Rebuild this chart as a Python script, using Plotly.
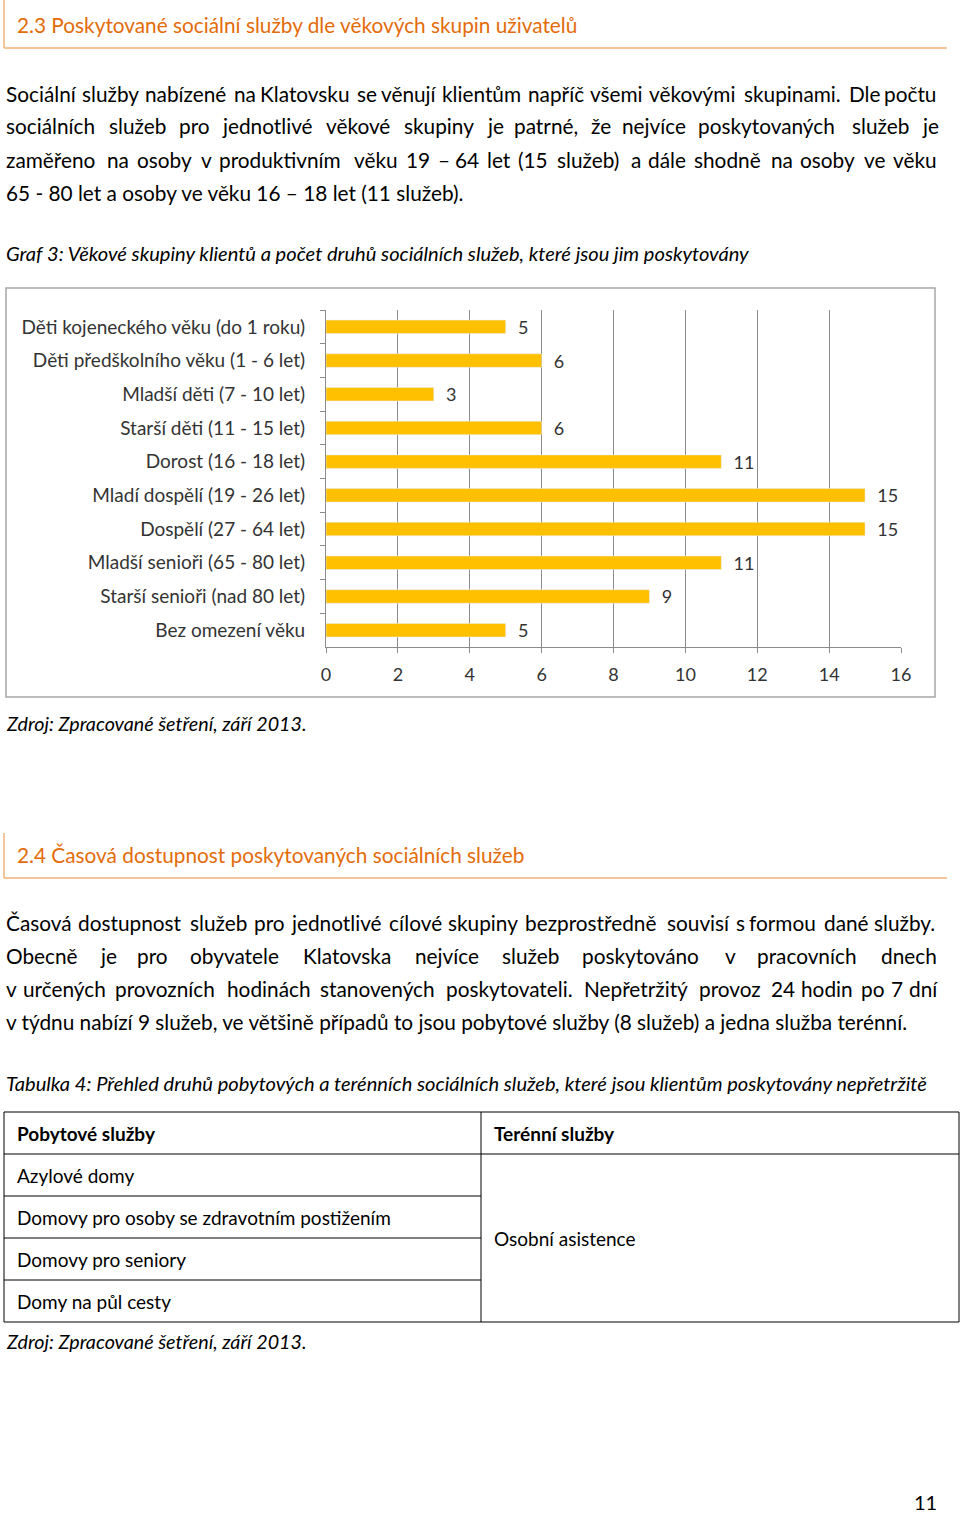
import plotly.graph_objects as go

W, H = 960, 1513

categories = [
    "Děti kojeneckého věku (do 1 roku)",
    "Děti předškolního věku (1 - 6 let)",
    "Mladší děti (7 - 10 let)",
    "Starší děti (11 - 15 let)",
    "Dorost (16 - 18 let)",
    "Mladí dospělí (19 - 26 let)",
    "Dospělí (27 - 64 let)",
    "Mladší senioři (65 - 80 let)",
    "Starší senioři (nad 80 let)",
    "Bez omezení věku",
]
services = [5, 6, 3, 6, 11, 15, 15, 11, 9, 5]
x_ticks = [0, 2, 4, 6, 8, 10, 12, 14, 16]

heading1 = "2.3 Poskytované sociální služby dle věkových skupin uživatelů"
para1 = [
    "Sociální služby nabízené na Klatovsku se věnují klientům napříč všemi věkovými skupinami. Dle počtu",
    "sociálních služeb pro jednotlivé věkové skupiny je patrné, že nejvíce poskytovaných služeb je",
    "zaměřeno na osoby v produktivním věku 19 – 64 let (15 služeb) a dále shodně na osoby ve věku",
    "65 - 80 let a osoby ve věku 16 – 18 let (11 služeb).",
]
caption1 = "Graf 3: Věkové skupiny klientů a počet druhů sociálních služeb, které jsou jim poskytovány"
source = "Zdroj: Zpracované šetření, září 2013."

heading2 = "2.4 Časová dostupnost poskytovaných sociálních služeb"
para2 = [
    "Časová dostupnost služeb pro jednotlivé cílové skupiny bezprostředně souvisí s formou dané služby.",
    "Obecně je pro obyvatele Klatovska nejvíce služeb poskytováno v pracovních dnech",
    "v určených provozních hodinách stanovených poskytovateli. Nepřetržitý provoz 24 hodin po 7 dní",
    "v týdnu nabízí 9 služeb, ve většině případů to jsou pobytové služby (8 služeb) a jedna služba terénní.",
]
caption2 = "Tabulka 4: Přehled druhů pobytových a terénních sociálních služeb, které jsou klientům poskytovány nepřetržitě"
table_head = ["Pobytové služby", "Terénní služby"]
table_left = ["Azylové domy", "Domovy pro osoby se zdravotním postižením", "Domovy pro seniory", "Domy na půl cesty"]
table_right = ["Osobní asistence"]
page_no = "11"

FONT = "Lato"
ORANGE = "#E36C0A"
LINE_OR = "#F0B27A"
BODY = 20.8


def py(y):
    return 1 - y / H


def px(x):
    return x / W


fig = go.Figure()
fig.add_trace(
    go.Bar(
        x=services,
        y=categories,
        orientation="h",
        marker_color="#FFC000",
        texttemplate="  %{x}",
        textposition="outside",
        constraintext="none",
        textfont=dict(size=18, color="#333333", family=FONT),
        cliponaxis=False,
        hoverinfo="skip",
    )
)

ann = []
shapes = []


def text(x, y, s, size=20, color="#000000", italic=False, bold=False, anchor="left"):
    if bold:
        s = "<b>" + s + "</b>"
    if italic:
        s = "<i>" + s + "</i>"
    ann.append(dict(x=px(x), y=py(y), xref="paper", yref="paper", text=s, showarrow=False,
                    xanchor=anchor, yanchor="middle",
                    font=dict(size=size, color=color, family=FONT)))


def line(x0, y0, x1, y1, color="#000000", width=1):
    shapes.append(dict(type="line", xref="paper", yref="paper", x0=px(x0), y0=py(y0),
                       x1=px(x1), y1=py(y1), line=dict(color=color, width=width)))


# rough Lato advance widths (em) for spreading justified lines
LATO = dict(zip("abcdefghijklmnopqrstuvwxyz",
                [.49, .56, .46, .56, .52, .33, .51, .56, .24, .24, .50, .24, .85,
                 .56, .57, .56, .56, .37, .43, .36, .56, .51, .78, .50, .51, .46]))
LATO.update(zip("ABCDEFGHIJKLMNOPQRSTUVWXYZ",
                [.68, .63, .66, .72, .55, .53, .70, .74, .27, .39, .64, .49, .88,
                 .74, .78, .59, .78, .62, .53, .56, .71, .67, .99, .65, .62, .60]))
LATO.update({c: .58 for c in "0123456789"})
LATO.update({".": .22, ",": .22, ":": .24, ";": .24, "(": .31, ")": .31, "-": .35, "–": .50})
BASE = dict(zip("áéíýěščřžůúďťňČŘŠŽ", "aeiyescrzuudtnCRSZ"))


def est_width(word, size):
    return sum(LATO.get(BASE.get(c, c), .52) for c in word) * size * 1.05


def justified(x0, x1, y, s, size):
    # word-by-word placement to imitate justified paragraph text
    words = s.split(" ")
    widths = [est_width(w, size) for w in words]
    gap = (x1 - x0 - sum(widths)) / (len(words) - 1)
    x = x0
    for w, wd in zip(words, widths):
        text(x, y, w, size)
        x += wd + gap


# heading 1
line(4, 0, 4, 48, LINE_OR, 1.5)
line(4, 48, 947, 48, LINE_OR, 1.5)
text(15, 24, heading1, 20.8, ORANGE)
for i, s in enumerate(para1):
    if i < len(para1) - 1:
        justified(4, 937, 93 + 33 * i, s, BODY)
    else:
        text(4, 93 + 33 * i, s, BODY)
text(4, 253, caption1, 20.1, italic=True)

# chart frame
shapes.append(dict(type="rect", xref="paper", yref="paper", x0=px(6), y0=py(697), x1=px(935), y1=py(288),
                   line=dict(color="#A6A6A6", width=1.5), layer="below"))
text(4, 724, source, 19.7, italic=True)

# heading 2
line(4, 833, 4, 878, LINE_OR, 1.5)
line(4, 878, 947, 878, LINE_OR, 1.5)
text(15, 854, heading2, 20.8, ORANGE)
for i, s in enumerate(para2):
    if i < len(para2) - 1:
        justified(4, 937, 922 + 33.3 * i, s, BODY)
    else:
        text(4, 922 + 33.3 * i, s, BODY)
text(4, 1083, caption2, 20.1, italic=True)

# table
tx0, tx1, tmid = 4, 959, 481
ty0, rh = 1112, 42
ty1 = ty0 + rh * 5
shapes.append(dict(type="rect", xref="paper", yref="paper", x0=px(tx0), y0=py(ty1), x1=px(tx1), y1=py(ty0),
                   line=dict(color="#000000", width=1)))
line(tmid, ty0, tmid, ty1)
line(tx0, ty0 + rh, tx1, ty0 + rh)
for k in range(2, 5):
    line(tx0, ty0 + rh * k, tmid, ty0 + rh * k)
text(15, ty0 + rh / 2, table_head[0], 19, bold=True)
text(492, ty0 + rh / 2, table_head[1], 19, bold=True)
for i, s in enumerate(table_left):
    text(15, ty0 + rh * (i + 1.5), s, 19)
text(492, (ty0 + rh + ty1) / 2, table_right[0], 19)
text(4, 1341, source, 19.7, italic=True)

text(925, 1502, page_no, 20, anchor="center")

fig.update_layout(
    width=W,
    height=H,
    margin=dict(l=0, r=0, t=0, b=0, autoexpand=False),
    paper_bgcolor="white",
    plot_bgcolor="white",
    showlegend=False,
    bargap=0.6,
    font=dict(family=FONT, color="#333333"),
    annotations=ann,
    shapes=shapes,
    xaxis=dict(
        domain=[px(326), px(901)],
        range=[0, 16],
        tickvals=x_ticks,
        showgrid=True,
        gridcolor="#8C8C8C",
        gridwidth=1,
        showline=True,
        linecolor="#8C8C8C",
        ticks="outside",
        ticklen=5,
        tickcolor="#8C8C8C",
        tickfont=dict(size=18, color="#333333"),
        ticklabelstandoff=6,
        zeroline=False,
        automargin=False,
        fixedrange=True,
    ),
    yaxis=dict(
        domain=[py(647), py(310)],
        autorange="reversed",
        showline=True,
        linecolor="#8C8C8C",
        ticks="outside",
        tickson="boundaries",
        ticklen=5,
        tickcolor="#8C8C8C",
        tickfont=dict(size=19, color="#333333"),
        ticklabelstandoff=16,
        showgrid=False,
        automargin=False,
        fixedrange=True,
    ),
)

fig.write_html(
    "out.html",
    config={"responsive": False, "displayModeBar": False},
    post_script="document.body.style.margin='0';document.body.style.overflow='hidden';",
)
